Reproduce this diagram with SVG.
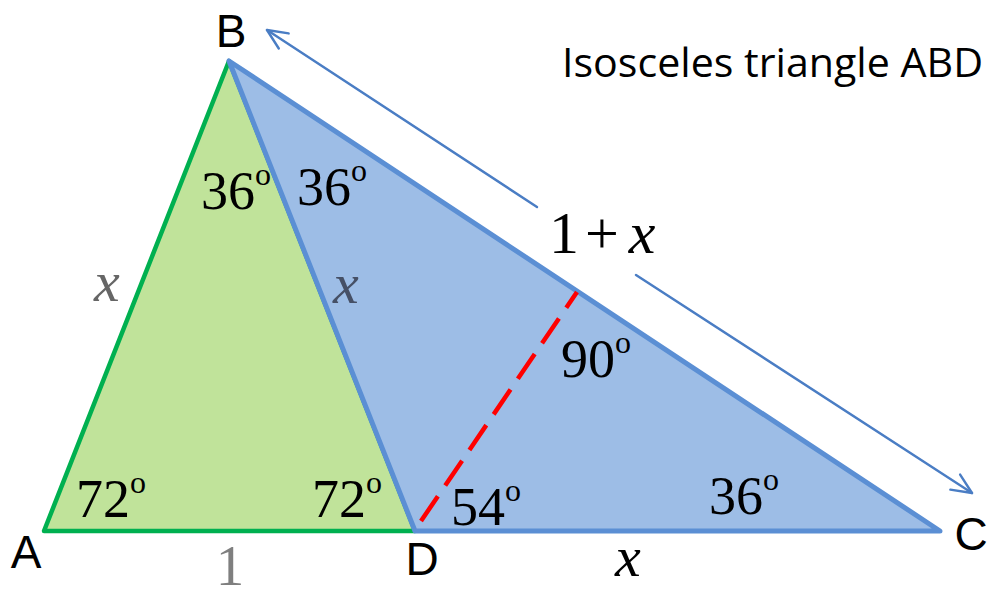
<svg xmlns="http://www.w3.org/2000/svg" width="999" height="598" viewBox="0 0 999 598">
<defs>
<style>
.lbl{font-family:"Liberation Sans",Arial,sans-serif;font-size:46px;fill:#000}
.ang{font-family:"Liberation Serif","Times New Roman",serif;font-size:54px;fill:#000}
.sup{font-size:32px}
.var{font-family:"Liberation Serif","Times New Roman",serif;font-style:italic;font-size:58px}
.arr{stroke:#4A7DC4;stroke-width:2.4;fill:none;stroke-linecap:round;stroke-linejoin:round}
</style>
<marker id="ah" viewBox="0 0 24 24" refX="22" refY="12" markerWidth="24" markerHeight="24" markerUnits="userSpaceOnUse" orient="auto">
<path d="M2,3 L22,12 L2,21" fill="none" stroke="#4A7DC4" stroke-width="2.4" stroke-linecap="round" stroke-linejoin="round"/>
</marker>
</defs>
<rect width="999" height="598" fill="#fff"/>
<g id="triangle-ABD">
<polygon points="44,531 229,61 415,531" fill="#C0E39A" stroke="#00B050" stroke-width="4.5" stroke-linejoin="round"/>
</g>
<g id="triangle-BDC">
<polygon points="229,61 415,531 940,531" fill="#9DBDE6" stroke="#5B8FD4" stroke-width="5" stroke-linejoin="round"/>
</g>
<g id="connectors">
<line x1="421" y1="521" x2="577" y2="292" stroke="#FF0000" stroke-width="4.5" stroke-dasharray="30,13"/>
<line class="arr" x1="537" y1="207" x2="267" y2="30" marker-end="url(#ah)"/>
<line class="arr" x1="636" y1="275" x2="972" y2="493" marker-end="url(#ah)"/>
</g>
<g id="labels">
<text class="lbl" x="231" y="47" text-anchor="middle">B</text>
<text class="lbl" x="26" y="568" text-anchor="middle">A</text>
<text class="lbl" x="422" y="575" text-anchor="middle">D</text>
<text class="lbl" x="971" y="550" text-anchor="middle">C</text>
<text x="562" y="77" font-family="'Open Sans','Liberation Sans',sans-serif" font-size="41" textLength="421" lengthAdjust="spacingAndGlyphs">Isosceles triangle ABD</text>
<text class="ang" x="76" y="517">72<tspan class="sup" dy="-24">o</tspan></text>
<text class="ang" x="312" y="517">72<tspan class="sup" dy="-24">o</tspan></text>
<text class="ang" x="451" y="525">54<tspan class="sup" dy="-24">o</tspan></text>
<text class="ang" x="709" y="514">36<tspan class="sup" dy="-24">o</tspan></text>
<text class="ang" x="201" y="209">36<tspan class="sup" dy="-24">o</tspan></text>
<text class="ang" x="297" y="205">36<tspan class="sup" dy="-24">o</tspan></text>
<text class="ang" x="561" y="377">90<tspan class="sup" dy="-24">o</tspan></text>
<text class="var" x="94" y="301" fill="#666666">x</text>
<text class="var" x="333" y="303" fill="#465066">x</text>
<text class="var" x="615" y="576" fill="#000">x</text>
<text x="230" y="585" text-anchor="middle" font-family="'Liberation Serif','Times New Roman',serif" font-size="57" fill="#7F7F7F">1</text>
<text x="549" y="253" font-family="'Liberation Serif','Times New Roman',serif" font-size="60" fill="#000">1<tspan dx="6">+</tspan><tspan dx="10" font-style="italic">x</tspan></text>
</g>
</svg>
